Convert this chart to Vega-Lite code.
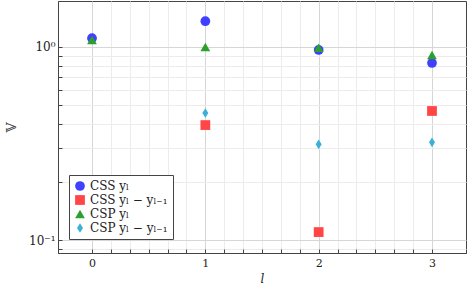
{
  "$schema": "https://vega.github.io/schema/vega-lite/v6.json",
  "width": 408,
  "height": 252,
  "autosize": {"type": "none"},
  "padding": {"left": 58, "top": 1, "right": 2, "bottom": 38},
  "config": {
    "font": "DejaVu Serif",
    "view": {"stroke": "#444444", "strokeWidth": 1}
  },
  "data": {
    "values": [
      {"series": "CSS yₗ", "l": 0, "v": 1.11},
      {"series": "CSS yₗ", "l": 1, "v": 1.36},
      {"series": "CSS yₗ", "l": 2, "v": 0.965},
      {"series": "CSS yₗ", "l": 3, "v": 0.826},
      {"series": "CSS yₗ − yₗ₋₁", "l": 1, "v": 0.394},
      {"series": "CSS yₗ − yₗ₋₁", "l": 2, "v": 0.110},
      {"series": "CSS yₗ − yₗ₋₁", "l": 3, "v": 0.466},
      {"series": "CSP yₗ", "l": 0, "v": 1.087},
      {"series": "CSP yₗ", "l": 1, "v": 1.0},
      {"series": "CSP yₗ", "l": 2, "v": 0.99},
      {"series": "CSP yₗ", "l": 3, "v": 0.909},
      {"series": "CSP yₗ − yₗ₋₁", "l": 1, "v": 0.455},
      {"series": "CSP yₗ − yₗ₋₁", "l": 2, "v": 0.313},
      {"series": "CSP yₗ − yₗ₋₁", "l": 3, "v": 0.321}
    ]
  },
  "mark": {"type": "point", "filled": true, "opacity": 1, "size": 95},
  "encoding": {
    "x": {
      "field": "l", "type": "quantitative",
      "scale": {"domain": [-0.3, 3.3], "nice": false, "zero": false},
      "axis": {
        "values": [0, 0.1667, 0.3333, 0.5, 0.6667, 0.8333, 1, 1.1667, 1.3333, 1.5, 1.6667, 1.8333, 2, 2.1667, 2.3333, 2.5, 2.6667, 2.8333, 3],
        "labelExpr": "abs(datum.value - round(datum.value)) < 0.01 ? format(datum.value, 'd') : ''",
        "grid": true,
        "gridColor": {"condition": {"test": "abs(datum.value - round(datum.value)) < 0.01", "value": "#d6d6d6"}, "value": "#ececec"},
        "tickSize": -4,
        "tickColor": "#444444",
        "domainColor": "#444444",
        "labelFontSize": 11,
        "labelColor": "#222222",
        "labelPadding": 8,
        "title": "l",
        "titleFontStyle": "italic",
        "titleFontWeight": "normal",
        "titleFontSize": 12,
        "titleColor": "#222222",
        "titlePadding": 5
      }
    },
    "y": {
      "field": "v", "type": "quantitative",
      "scale": {"type": "log", "domain": [0.0857, 1.73], "nice": false},
      "axis": {
        "values": [0.09, 0.1, 0.2, 0.3, 0.4, 0.5, 0.6, 0.7, 0.8, 0.9, 1],
        "labelExpr": "datum.value == 1 ? '10⁰' : (datum.value == 0.1 ? '10⁻¹' : '')",
        "grid": true,
        "gridColor": {"condition": {"test": "datum.value == 1 || datum.value == 0.1", "value": "#d6d6d6"}, "value": "#ececec"},
        "tickSize": -4,
        "tickColor": "#444444",
        "domainColor": "#444444",
        "labelFontSize": 12,
        "labelColor": "#222222",
        "labelPadding": 7,
        "title": "𝕍",
        "titleFontWeight": "normal",
        "titleFontSize": 13,
        "titleColor": "#444444",
        "titleX": -47,
        "titleY": 126,
        "titleAngle": -90,
        "titleAlign": "center",
        "titleBaseline": "middle"
      }
    },
    "shape": {
      "field": "series", "type": "nominal",
      "scale": {
        "domain": ["CSS yₗ", "CSS yₗ − yₗ₋₁", "CSP yₗ", "CSP yₗ − yₗ₋₁"],
        "range": ["circle", "square", "triangle-up", "M0,-1L0.62,0L0,1L-0.62,0Z"]
      },
      "legend": null
    },
    "color": {
      "field": "series", "type": "nominal",
      "scale": {
        "domain": ["CSS yₗ", "CSS yₗ − yₗ₋₁", "CSP yₗ", "CSP yₗ − yₗ₋₁"],
        "range": ["#4040ff", "#ff4545", "#2ca02c", "#3cb1d8"]
      },
      "legend": {
        "title": null,
        "orient": "none",
        "legendX": 11,
        "legendY": 174,
        "labelFontSize": 12,
        "labelColor": "#222222",
        "symbolSize": 95,
        "symbolOpacity": 1,
        "rowPadding": 2,
        "padding": 5,
        "strokeColor": "#444444",
        "fillColor": "#ffffff",
        "labelLimit": 200
      }
    }
  }
}
